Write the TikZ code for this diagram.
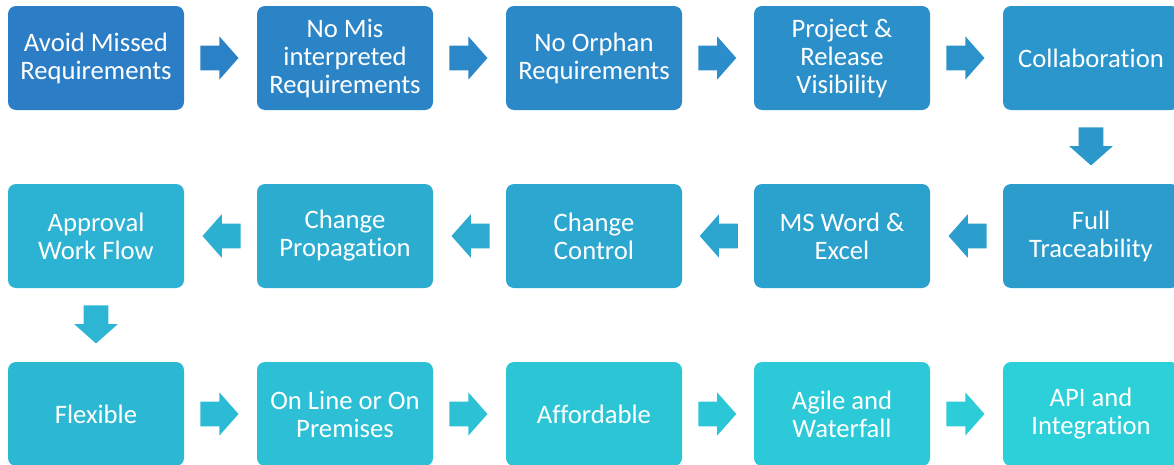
\documentclass[tikz,border=0pt]{standalone}
\usepackage{fontspec}
\setmainfont{Carlito}[Ligatures=NoCommon]
\usepackage{xcolor}
\usetikzlibrary{calc,shapes.arrows}

\definecolor{flowstart}{RGB}{43,126,197}
\definecolor{flowend}{RGB}{44,208,217}

\tikzset{
  stepbox/.style={rectangle, rounded corners=6pt, minimum width=132pt,
    minimum height=78pt, inner sep=2pt, align=center, text=white,
    font=\fontsize{20}{21}\selectfont, fill=flowend!#1!flowstart},
  flowarrow/.style 2 args={single arrow, single arrow head extend=7.1pt,
    single arrow tip angle=97, minimum height=28.5pt, inner xsep=0pt,
    inner ysep=9pt, anchor=tail, fill=flowend!#1!flowstart,
    shape border rotate=#2},
  downarrow/.style={flowarrow={#1}{270}, inner xsep=9pt, inner ysep=0pt}
}

\begin{document}
\begin{tikzpicture}[x=0.75pt,y=-0.75pt]
		\clip (0,0) rectangle (1174,464);
		% Row 1
		\node[stepbox=0]   (avoid)      at (96,58)   {Avoid Missed\\Requirements};
		\node[stepbox=7]   (misread)    at (345,58)  {No Mis\\interpreted\\Requirements};
		\node[stepbox=14]  (orphan)     at (594,58)  {No Orphan\\Requirements};
		\node[stepbox=21]  (visibility) at (842,58)  {Project \&\\Release\\Visibility};
		\node[stepbox=29]  (collab)     at (1091,58) {Collaboration};
		% Row 2
		\node[stepbox=36]  (trace)      at (1091,236) {Full\\Traceability};
		\node[stepbox=43]  (msword)     at (842,236)  {MS Word \&\\Excel};
		\node[stepbox=50]  (changectl)  at (594,236)  {Change\\Control};
		\node[stepbox=57]  (changeprop) at (345,236)  {Change\\Propagation};
		\node[stepbox=64]  (approval)   at (96,236)   {Approval\\Work Flow};
		% Row 3
		\node[stepbox=71]  (flexible)   at (96,414)   {Flexible};
		\node[stepbox=79]  (online)     at (345,414)  {On Line or On\\Premises};
		\node[stepbox=86]  (affordable) at (594,414)  {Affordable};
		\node[stepbox=93]  (agile)      at (842,414)  {Agile and\\Waterfall};
		\node[stepbox=100] (api)        at (1091,414) {API and\\Integration};

		% Arrows
		\node[flowarrow={4}{0}]    at ($(avoid.east)!0.22!(misread.west)$) {};
		\node[flowarrow={11}{0}]   at ($(misread.east)!0.22!(orphan.west)$) {};
		\node[flowarrow={18}{0}]   at ($(orphan.east)!0.22!(visibility.west)$) {};
		\node[flowarrow={25}{0}]   at ($(visibility.east)!0.22!(collab.west)$) {};
		\node[downarrow=32]        at ($(collab.south)!0.23!(trace.north)$) {};
		\node[flowarrow={39}{180}] at ($(trace.west)!0.22!(msword.east)$) {};
		\node[flowarrow={46}{180}] at ($(msword.west)!0.22!(changectl.east)$) {};
		\node[flowarrow={54}{180}] at ($(changectl.west)!0.22!(changeprop.east)$) {};
		\node[flowarrow={61}{180}] at ($(changeprop.west)!0.22!(approval.east)$) {};
		\node[downarrow=68]        at ($(approval.south)!0.23!(flexible.north)$) {};
		\node[flowarrow={75}{0}]   at ($(flexible.east)!0.22!(online.west)$) {};
		\node[flowarrow={82}{0}]   at ($(online.east)!0.22!(affordable.west)$) {};
		\node[flowarrow={89}{0}]   at ($(affordable.east)!0.22!(agile.west)$) {};
		\node[flowarrow={96}{0}]   at ($(agile.east)!0.22!(api.west)$) {};
	\end{tikzpicture}
\end{document}
